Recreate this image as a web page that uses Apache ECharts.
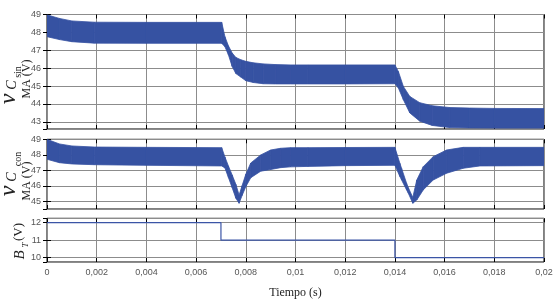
<!DOCTYPE html>
<html>
<head>
<meta charset="utf-8">
<script src="https://cdn.jsdelivr.net/npm/echarts@6/dist/echarts.min.js"></script>
<style>
html,body{margin:0;padding:0;background:#fff;}
#c{width:558px;height:300px;}
</style>
</head>
<body>
<div id="c"></div>
<script>
// ---- data ----
// Panel 1: v_C without MA, ripple band envelopes
const t1  = [0, 0.0005, 0.001, 0.0019, 0.004, 0.00703, 0.00716, 0.0073, 0.00745, 0.0076, 0.0078, 0.008, 0.0083, 0.0087, 0.0092, 0.0098, 0.0105, 0.012, 0.014, 0.01414, 0.01434, 0.0146, 0.015, 0.0155, 0.0162, 0.017, 0.018, 0.02];
const up1 = [48.98, 48.78, 48.64, 48.57, 48.56, 48.56, 47.76, 47.25, 46.85, 46.6, 46.47, 46.38, 46.3, 46.24, 46.2, 46.18, 46.18, 46.18, 46.18, 45.81, 44.98, 44.42, 44.07, 43.9, 43.8, 43.77, 43.75, 43.74];
const lo1 = [47.76, 47.6, 47.48, 47.4, 47.39, 47.39, 47.2, 46.75, 46.1, 45.7, 45.5, 45.3, 45.2, 45.13, 45.12, 45.12, 45.12, 45.12, 45.13, 44.89, 44.24, 43.5, 43.04, 42.8, 42.68, 42.66, 42.65, 42.65];
// Panel 2: v_C with MA, ripple band envelopes
const t2  = [0, 0.0005, 0.001, 0.0019, 0.004, 0.00703, 0.00716, 0.0073, 0.00745, 0.0076, 0.00773, 0.00785, 0.008, 0.0082, 0.0086, 0.009, 0.0094, 0.0098, 0.0105, 0.012, 0.014, 0.0142, 0.01427, 0.01447, 0.01454, 0.01472, 0.01488, 0.01514, 0.01554, 0.01608, 0.01675, 0.01742, 0.02];
const up2 = [49.0, 48.7, 48.57, 48.5, 48.48, 48.46, 47.86, 47.28, 46.7, 46.09, 45.4, 46.0, 46.74, 47.47, 47.99, 48.31, 48.42, 48.46, 48.46, 48.47, 48.48, 47.45, 47.12, 46.16, 45.88, 45.25, 46.37, 47.23, 47.88, 48.31, 48.48, 48.48, 48.48];
const lo2 = [47.71, 47.49, 47.41, 47.36, 47.32, 47.28, 47.15, 46.54, 45.88, 45.2, 44.87, 45.37, 45.94, 46.52, 46.94, 47.05, 47.17, 47.22, 47.25, 47.3, 47.32, 46.6, 46.37, 45.73, 45.52, 44.87, 45.08, 45.73, 46.37, 46.81, 47.13, 47.28, 47.3];
// Panel 3: B_T step
const tB = [0, 0.007, 0.014, 0.02];
const vB = [12, 11, 10, 10];
// tick labels
const xTickLabels = ['0', '0,002', '0,004', '0,006', '0,008', '0,01', '0,012', '0,014', '0,016', '0,018', '0,02'];
const yTicks1 = [43, 44, 45, 46, 47, 48, 49];
const yTicks2 = [45, 46, 47, 48, 49];
const yTicks3 = [10, 11, 12];
const xTitle = 'Tiempo (s)';

// ---- chart ----
const BLUE = '#3652a2';
const grids = [
  {left: 47, top: 14.5, width: 497, height: 114.5},
  {left: 47, top: 139.3, width: 497, height: 69.7},
  {left: 47, top: 218.3, width: 497, height: 47.7}
].map(g => Object.assign(g, {show: true, borderColor: '#000', borderWidth: 1}));

const splitGray = {show: true, lineStyle: {color: '#8c8c8c', width: 1}};
const tickIn = {show: true, inside: true, length: 4, lineStyle: {color: '#000', width: 1}};
const labelStyle = {color: '#555', fontSize: 9, fontFamily: 'Liberation Sans, Arial, sans-serif'};

const xAxes = [];
for (let i = 0; i < 3; i++) {
  xAxes.push({
    gridIndex: i, type: 'value', min: 0, max: 0.02, interval: 0.002,
    axisLine: {show: false}, axisTick: tickIn, splitLine: splitGray,
    axisLabel: Object.assign({show: i === 2, margin: 6,
      formatter: (v) => xTickLabels[Math.round(v / 0.002)]}, labelStyle),
    name: i === 2 ? xTitle : '', nameLocation: 'middle', nameGap: 25,
    nameTextStyle: {fontFamily: 'Liberation Serif, Times New Roman, serif', fontSize: 12, color: '#222'}
  });
}
for (let i = 0; i < 3; i++) {
  xAxes.push({gridIndex: i, type: 'value', position: 'top', min: 0, max: 0.02, interval: 0.002,
    axisLine: {show: false}, axisTick: tickIn, splitLine: {show: false}, axisLabel: {show: false}});
}
const yRanges = [[42.6, 49, 6, yTicks1], [44.5, 49, 5, yTicks2], [9.75, 12.25, 3, yTicks3]];
const yAxes = [];
yRanges.forEach((r, i) => {
  yAxes.push({gridIndex: i, type: 'value', min: r[0], max: r[1], splitNumber: r[2],
    axisLine: {show: false}, axisTick: tickIn, splitLine: splitGray,
    axisLabel: Object.assign({margin: 6, showMinLabel: false, showMaxLabel: i !== 2,
      formatter: v => (r[3].indexOf(Math.round(v)) >= 0 && Math.abs(v - Math.round(v)) < 1e-6) ? String(Math.round(v)) : ''}, labelStyle)});
});
yRanges.forEach((r, i) => {
  yAxes.push({gridIndex: i, type: 'value', position: 'right', min: r[0], max: r[1], splitNumber: r[2],
    axisLine: {show: false}, axisTick: tickIn, splitLine: {show: false}, axisLabel: {show: false}});
});

// Ripple band: filled polygon between lower and upper envelopes, placed via the axes' scales
function band(t, lo, up, idx) {
  return {
    type: 'custom', xAxisIndex: idx, yAxisIndex: idx, silent: true, clip: true,
    data: t.map((x, i) => [x, lo[i], up[i]]),
    encode: {x: 0, y: [1, 2]},
    renderItem: function (params, api) {
      const i = params.dataIndex;
      if (i >= t.length - 1) return null;
      const pts = [
        api.coord([t[i], up[i]]), api.coord([t[i + 1], up[i + 1]]),
        api.coord([t[i + 1], lo[i + 1]]), api.coord([t[i], lo[i]])
      ];
      return {type: 'polygon', shape: {points: pts},
        style: {fill: BLUE, stroke: BLUE, lineWidth: 0.8}};
    }
  };
}

const serif = '"Liberation Serif", "Times New Roman", serif';
function txt(text, x, y, font) {
  return {type: 'text', x: x, y: y, rotation: Math.PI / 2, silent: true,
    style: {text: text, font: font, fill: '#222', align: 'center', verticalAlign: 'middle'}};
}

const option = {
  animation: false,
  grid: grids,
  xAxis: xAxes,
  yAxis: yAxes,
  series: [
    band(t1, lo1, up1, 0),
    band(t2, lo2, up2, 1),
    {type: 'line', xAxisIndex: 2, yAxisIndex: 2, step: 'end', symbol: 'none', silent: true,
     data: tB.map((x, i) => [x, vB[i]]), lineStyle: {width: 1.2, color: '#3b55a6'}}
  ],
  graphic: [
    txt('v', 9, 99, 'italic 24px ' + serif),
    txt('C', 12, 85, 'italic 14px ' + serif),
    txt('sin', 18, 72, '10px ' + serif),
    txt('MA (V)', 27, 79, '12px ' + serif),
    txt('v', 9, 191, 'italic 24px ' + serif),
    txt('C', 12, 177, 'italic 14px ' + serif),
    txt('con', 18, 159, '10px ' + serif),
    txt('MA (V)', 27, 181, '12px ' + serif),
    txt('B', 20, 255, 'italic 15px ' + serif),
    txt('T', 26, 245, 'italic 9px ' + serif),
    txt('(V)', 19, 232, '13px ' + serif)
  ]
};
const chart = echarts.init(document.getElementById('c'), null, {renderer: 'canvas'});
chart.setOption(option);
</script>
</body>
</html>
